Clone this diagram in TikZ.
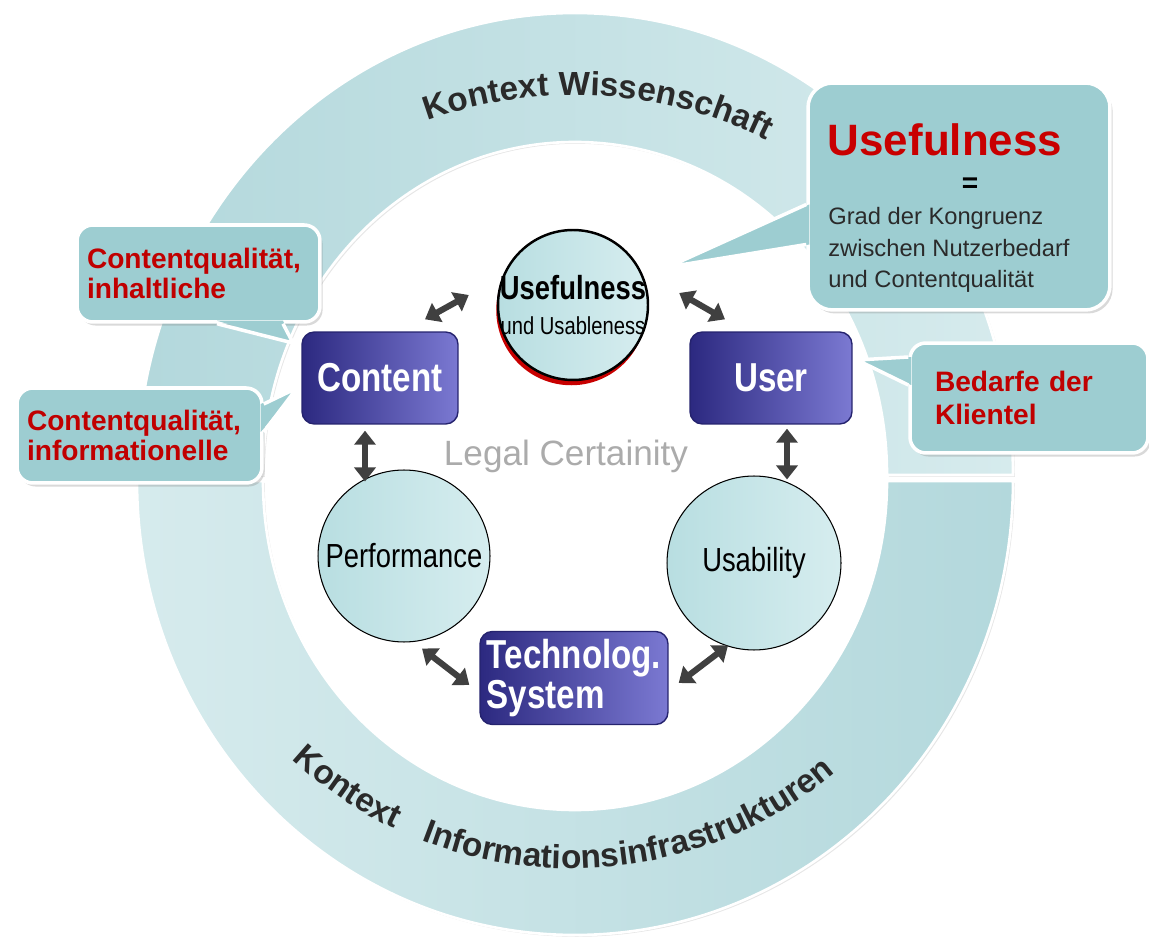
\documentclass[tikz,border=0pt]{standalone}
\usepackage{fontspec}
\setmainfont{Liberation Sans}
\newfontfamily\narrowfont[FakeStretch=0.82]{Liberation Sans}
\usetikzlibrary{arrows.meta,shadows,decorations.text}
\definecolor{ringdark}{HTML}{B3D8DC}
\definecolor{ringlight}{HTML}{D6EBED}
\definecolor{callfill}{HTML}{9DCDD1}
\definecolor{calltext}{HTML}{C00000}
\definecolor{usered}{HTML}{C80000}
\definecolor{ballfill}{HTML}{B8DEE1}
\definecolor{balllight}{HTML}{D6EDEF}
\definecolor{boxdark}{HTML}{2C2980}
\definecolor{boxlight}{HTML}{7B79D2}
\definecolor{boxedge}{HTML}{25236E}
\definecolor{arrowgray}{HTML}{404040}
\definecolor{legalgray}{HTML}{ABABAB}
\definecolor{darktext}{HTML}{2A2A2A}
\newcommand{\ringfont}{\bfseries\fontsize{19}{21}\selectfont}
\tikzset{
    ring/.style={draw=white,line width=1.5pt,drop shadow={opacity=0.2,shadow xshift=1pt,shadow yshift=-1pt}},
    toprim/.style={ring,left color=ringdark,right color=ringlight},
    botrim/.style={ring,left color=ringlight,right color=ringdark},
    ringlabel/.style={decorate,decoration={text along path,text color=darktext,#1}},
    callbox/.style={rectangle,rounded corners=9pt,fill=callfill,draw=white,line width=2pt,
        drop shadow={opacity=0.3,shadow xshift=1.5pt,shadow yshift=-2pt},
        align=left,text=calltext,font=\bfseries\fontsize{16}{17.5}\selectfont},
    callptr/.style={fill=callfill},
    callptrline/.style={draw=white,line width=2pt,line join=round},
    ballnode/.style={circle,draw=black,line width=0.6pt,left color=ballfill,right color=balllight,
        inner sep=0pt,align=center,font=\narrowfont\fontsize{19}{21}\selectfont},
    bluebox/.style={rectangle,rounded corners=7pt,draw=boxedge,line width=0.8pt,left color=boxdark,
        right color=boxlight,text=white,inner sep=2pt,align=left,font=\narrowfont\bfseries\fontsize{23}{23}\selectfont},
    biarrow/.style={draw=arrowgray,line width=3.5pt,{Triangle[width=12pt,length=8pt]}-{Triangle[width=12pt,length=8pt]}},
    legaltext/.style={text=legalgray,font=\fontsize{20}{22}\selectfont},
}
\begin{document}
\begin{tikzpicture}[x=0.02cm,y=0.02cm]
\useasboundingbox (0,0) rectangle (1149,937);
\path[toprim] (1013,462) arc[start angle=0,end angle=180,x radius=438,y radius=462]
    -- (263,462) arc[start angle=180,end angle=0,x radius=312,y radius=333] -- cycle;
\path[botrim] (137,456) arc[start angle=180,end angle=360,x radius=438,y radius=454]
    -- (887,456) arc[start angle=360,end angle=180,x radius=312,y radius=329] -- cycle;
\path[ringlabel={text={|\ringfont|Kontext Wissenschaft},text align=center}]
    (403.8,806.4) arc[start angle=115,end angle=58,x radius=405,y radius=380];
\path[ringlabel={text={|\ringfont|Kontext Informationsinfrastrukturen},text align={fit to path stretching spaces}}]
    (292,178) arc[start angle=226,end angle=311,x radius=402,y radius=390];

\node[ballnode,minimum size=3cm,inner sep=-4pt,line width=1.4pt,general shadow={fill=usered,shadow xshift=-1pt,shadow yshift=-3pt}] (useful) at (573,632)
    {\bfseries Usefulness\\[-1pt]{\fontsize{14}{16}\selectfont und Usableness}};
\node[bluebox,minimum width=3.12cm,minimum height=1.84cm] (content) at (380,559) {Content};
\node[bluebox,minimum width=3.24cm,minimum height=1.84cm] (user) at (771,559) {User};
\node[ballnode,minimum size=3.44cm] (perf) at (404,381) {Performance};
\node[ballnode,minimum size=3.48cm] (usab) at (754,374) {Usability};
\node[bluebox,minimum width=3.76cm,minimum height=1.86cm] (tech) at (574,259) {Technolog.\\System};
\node[legaltext] (legal) at (566,481) {Legal Certainity};

\draw[biarrow] ([shift={(45,12)}]content.north) -- ([shift={(-28,10)}]useful.west);
\draw[biarrow] ([shift={(30,12)}]useful.east) -- ([shift={(-46,12)}]user.north);
\draw[biarrow] ([shift={(-15,-6)}]content.south) -- ([shift={(-39,-12)}]perf.north);
\draw[biarrow] ([shift={(16,-4)}]user.south) -- ([shift={(33,-4)}]usab.north);
\draw[biarrow] ([shift={(18,-6)}]perf.south) -- ([shift={(-10,-7)}]tech.west);
\draw[biarrow] ([shift={(10,-5)}]tech.east) -- ([shift={(-26,5)}]usab.south);

\node[callbox,rounded corners=14pt,minimum width=6.04cm,minimum height=4.54cm] (nutzen) at (959,740.5) {};
\coordinate (nutzentip) at (668,670);
\fill[callptr] ([shift={(3,-8)}]nutzen.west) -- (nutzentip) -- ([shift={(3,-48)}]nutzen.west) -- cycle;
\draw[callptrline] ([shift={(0,-8)}]nutzen.west) -- (nutzentip) -- ([shift={(0,-48)}]nutzen.west);
\node[text=usered,font=\bfseries\fontsize{25}{28}\selectfont] (nutzentitel) at (945,797) {Usefulness};
\node[font=\bfseries\fontsize{16}{16}\selectfont] (gleich) at (970,752) {=};
\node[anchor=west,align=left,inner sep=0pt,text=darktext,font=\fontsize{13.5}{18}\selectfont] (nutzentext) at (828,687)
    {Grad der Kongruenz\\zwischen Nutzerbedarf\\und Contentqualität};

\node[callbox,text width=4.46cm,inner xsep=0.2cm,minimum height=1.94cm] (inhalt) at (198.5,663.5)
    {Contentqualität,\\inhaltliche};
\coordinate (inhalttip) at (293,594);
\fill[callptr] ([shift={(18.5,3)}]inhalt.south) -- (inhalttip) -- ([shift={(84.5,3)}]inhalt.south) -- cycle;
\draw[callptrline] ([shift={(18.5,0)}]inhalt.south) -- (inhalttip) -- ([shift={(84.5,0)}]inhalt.south);

\node[callbox,text width=4.5cm,inner xsep=0.2cm,minimum height=1.9cm] (info) at (139.5,501.5)
    {Contentqualität,\\informationelle};
\coordinate (infotip) at (297,549);
\fill[callptr] ([shift={(-3,31.5)}]info.east) -- (infotip) -- ([shift={(-3,3.5)}]info.east) -- cycle;
\draw[callptrline] ([shift={(0,31.5)}]info.east) -- (infotip) -- ([shift={(0,3.5)}]info.east);

\node[callbox,text width=3.76cm,inner xsep=0.5cm,minimum height=2.2cm,font=\bfseries\fontsize{16}{19}\selectfont] (bedarf) at (1029,539)
    {Bedarfe der\\Klientel};
\coordinate (bedarftip) at (857,577);
\fill[callptr] ([shift={(3,41)}]bedarf.west) -- (bedarftip) -- ([shift={(3,13)}]bedarf.west) -- cycle;
\draw[callptrline] ([shift={(0,41)}]bedarf.west) -- (bedarftip) -- ([shift={(0,13)}]bedarf.west);
\end{tikzpicture}
\end{document}
